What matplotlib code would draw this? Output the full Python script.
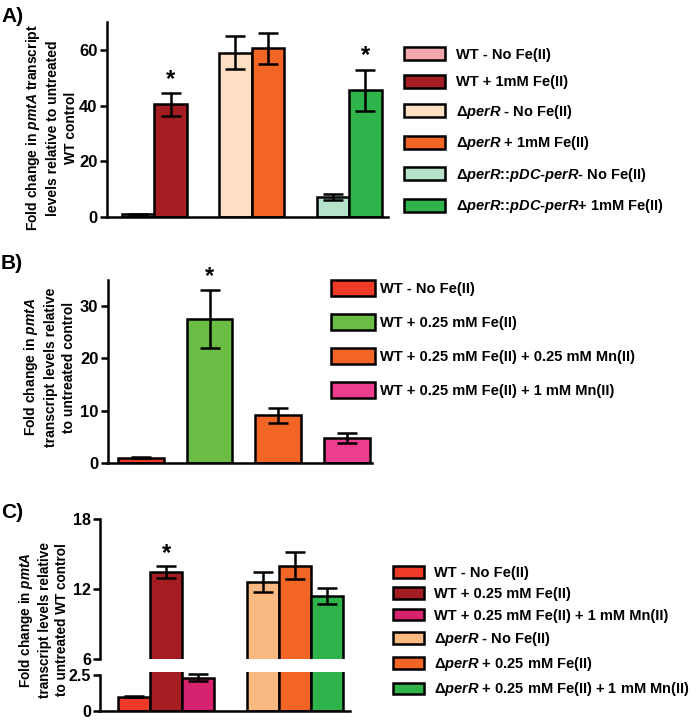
import numpy as np
import matplotlib
matplotlib.use("Agg")
import matplotlib.pyplot as plt

plt.rcParams['font.family'] = ['Liberation Sans', 'DejaVu Sans']
plt.rcParams['font.weight'] = 'bold'
plt.rcParams['mathtext.fontset'] = 'custom'
plt.rcParams['mathtext.rm'] = 'Liberation Sans:bold'
plt.rcParams['mathtext.it'] = 'Liberation Sans:italic:bold'
plt.rcParams['mathtext.bf'] = 'Liberation Sans:bold'

# ---- panel A data
a_labels = ['WT - No Fe(II)', 'WT + 1mM Fe(II)',
            r'$\Delta\mathit{perR}$ - No Fe(II)', r'$\Delta\mathit{perR}$ + 1mM Fe(II)',
            r'$\Delta\mathit{perR}$::$\mathit{pDC}$-$\mathit{perR}$- No Fe(II)',
            r'$\Delta\mathit{perR}$::$\mathit{pDC}$-$\mathit{perR}$+ 1mM Fe(II)']
a_vals = [1.0, 40.4, 59.0, 60.6, 7.2, 45.5]
a_err = [0.2, 4.0, 6.0, 5.5, 1.2, 7.3]
a_colors = ['#f4a7ab', '#a31d22', '#fde0c4', '#f26524', '#b6e2c9', '#2fb34b']
a_star = [False, True, False, False, False, True]

# ---- panel B data
b_labels = ['WT - No Fe(II)', 'WT + 0.25 mM Fe(II)',
            'WT + 0.25 mM Fe(II) + 0.25 mM Mn(II)', 'WT + 0.25 mM Fe(II) + 1 mM Mn(II)']
b_vals = [1.0, 27.5, 9.1, 4.75]
b_err = [0.1, 5.6, 1.5, 0.95]
b_colors = ['#ee3a26', '#6bbd45', '#f26524', '#ec3d8e']
b_star = [False, True, False, False]

# ---- panel C data
c_labels = ['WT - No Fe(II)', 'WT + 0.25 mM Fe(II)', 'WT + 0.25 mM Fe(II) + 1 mM Mn(II)',
            r'$\Delta\mathit{perR}$ - No Fe(II)', r'$\Delta\mathit{perR}$ + 0.25 mM Fe(II)',
            r'$\Delta\mathit{perR}$ + 0.25 mM Fe(II) + 1 mM Mn(II)']
c_vals = [1.0, 13.45, 2.3, 12.63, 14.0, 11.4]
c_err = [0.05, 0.5, 0.25, 0.85, 1.15, 0.72]
c_colors = ['#ee3a26', '#a31d22', '#d7236f', '#f9b980', '#f26524', '#2fb34b']
c_star = [False, True, False, False, False, False]

EDGE = 1.8
W = 700; H = 723


def box(l, t, r, b):
    return [l / W, 1 - b / H, (r - l) / W, (b - t) / H]


def style(ax, lw=EDGE):
    for s in ['top', 'right']:
        ax.spines[s].set_visible(False)
    for s in ['left', 'bottom']:
        ax.spines[s].set_linewidth(lw)
    ax.tick_params(axis='y', width=lw, length=5, labelsize=12, pad=2)
    ax.set_xticks([])


def draw_bars(ax, x, vals, err, colors):
    bars = ax.bar(x, vals, width=1.0, color=colors, edgecolor='black', linewidth=EDGE, zorder=2)
    ax.errorbar(x, vals, yerr=err, fmt='none', ecolor='black', elinewidth=1.8,
                capsize=7, capthick=1.8, zorder=3)
    return bars


fig = plt.figure(figsize=(7.0, 7.23), dpi=100)

# ---------------- A
axA = fig.add_axes(box(107, 22, 388, 217))
xA = np.array([0, 1, 3, 4, 6, 7])
barsA = draw_bars(axA, xA, a_vals, a_err, a_colors)
for xi, v, e, s in zip(xA, a_vals, a_err, a_star):
    if s:
        axA.text(xi, v + e + 1.0, '*', ha='center', va='bottom', fontsize=17)
axA.set_ylim(0, 70)
axA.set_xlim(-0.96, 7.7)
axA.set_yticks([0, 20, 40, 60])
style(axA)
fig.text(51 / W, 1 - 128 / H,
         'Fold change in $\\mathit{pmtA}$ transcript\nlevels relative to untreated\nWT control',
         rotation=90, ha='center', va='center', fontsize=10, linespacing=1.35)
fig.text(1 / W, 1 - 16 / H, 'A)', fontsize=15, va='center')
fig.legend(list(barsA.patches), a_labels, loc='upper left', bbox_to_anchor=(404 / W, 1 - 47 / H),
           frameon=False, fontsize=10.5, handlelength=2.8, handleheight=1.0,
           labelspacing=0.92, handletextpad=0.75, borderpad=0, borderaxespad=0)

# ---------------- B
axB = fig.add_axes(box(108, 280, 372, 463))
xB = np.array([0, 1.5, 3, 4.5])
barsB = draw_bars(axB, xB, b_vals, b_err, b_colors)
for xi, v, e, s in zip(xB, b_vals, b_err, b_star):
    if s:
        axB.text(xi, v + e + 0.4, '*', ha='center', va='bottom', fontsize=17)
axB.set_ylim(0, 35)
axB.set_xlim(-0.72, 5.05)
axB.set_yticks([0, 10, 20, 30])
style(axB)
fig.text(49 / W, 1 - 367 / H,
         'Fold change in $\\mathit{pmtA}$\ntranscript levels relative\nto untreated control',
         rotation=90, ha='center', va='center', fontsize=10, linespacing=1.35)
fig.text(1 / W, 1 - 263 / H, 'B)', fontsize=15, va='center')
fig.legend(list(barsB.patches), b_labels, loc='upper left', bbox_to_anchor=(331 / W, 1 - 280 / H),
           frameon=False, fontsize=10.5, handlelength=3.0, handleheight=1.3,
           labelspacing=1.25, handletextpad=0.35, borderpad=0, borderaxespad=0)

# ---------------- C (broken axis)
axCt = fig.add_axes(box(100, 519, 350, 659))
axCb = fig.add_axes(box(100, 672, 350, 711))
xC = np.array([0, 1, 2, 4, 5, 6])
barsC = draw_bars(axCt, xC, c_vals, c_err, c_colors)
draw_bars(axCb, xC, c_vals, c_err, c_colors)
for xi, v, e, s in zip(xC, c_vals, c_err, c_star):
    if s:
        axCt.text(xi, v + e + 0.1, '*', ha='center', va='bottom', fontsize=17)
axCt.set_ylim(6, 18)
axCb.set_ylim(0, 2.71)
for ax in (axCt, axCb):
    ax.set_xlim(-1.06, 6.72)
    style(ax)
    ax.tick_params(axis='y', labelsize=11.5, pad=1.5)
axCt.spines['bottom'].set_visible(False)
axCt.spines['left'].set_bounds(6, 18)
axCb.spines['left'].set_bounds(0, 2.5)
axCt.set_yticks([6, 12, 18])
axCb.set_yticks([0, 2.5])
axCb.set_yticklabels(['0', '2.5'])
fig.text(43 / W, 1 - 620 / H,
         'Fold change in $\\mathit{pmtA}$\ntranscript levels relative\nto untreated WT control',
         rotation=90, ha='center', va='center', fontsize=9.8, linespacing=1.3)
fig.text(1 / W, 1 - 512 / H, 'C)', fontsize=15, va='center')
fig.legend(list(barsC.patches), c_labels, loc='upper left', bbox_to_anchor=(393 / W, 1 - 566 / H),
           frameon=False, fontsize=10.5, handlelength=2.1, handleheight=0.85,
           labelspacing=0.5, handletextpad=0.7, borderpad=0, borderaxespad=0)

fig.savefig('out.png', dpi=100)
